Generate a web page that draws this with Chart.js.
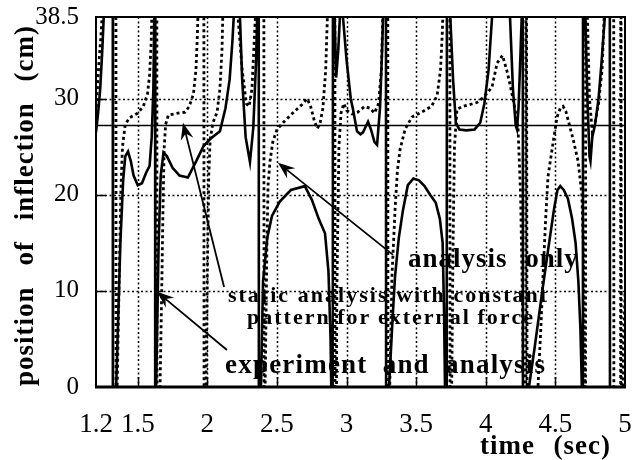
<!DOCTYPE html>
<html><head><meta charset="utf-8">
<script src="https://cdn.jsdelivr.net/npm/chart.js@4.4.1/dist/chart.umd.min.js"></script>
<style>html,body{margin:0;padding:0;background:#fff;}#wrap{width:632px;height:460px;position:relative;}</style>
</head><body><div id="wrap"><canvas id="c" width="632" height="460"></canvas></div>
<script>
// ---- tick labels / grid ----
const xTicks = [1.2, 1.5, 2, 2.5, 3, 3.5, 4, 4.5, 5];
const yTicks = [0, 10, 20, 30, 38.5];
const xGrid = [1.5, 2, 2.5, 3, 3.5, 4, 4.5];
const yGrid = [10, 20, 30];

// ---- experiment and analysis (solid) ----
const expT = [1.2,1.215,1.23,1.245,1.26,1.3,1.32,1.322,
1.345,1.375,1.395,1.41,1.43,1.45,1.47,1.5,1.53,1.56,1.585,1.6,1.612,1.62,1.624,1.626,
1.632,1.65,1.665,1.685,1.71,1.75,1.80,1.86,1.92,1.97,2.02,2.09,2.13,2.16,2.18,2.195,2.215,2.234,2.25,2.275,2.306,2.33,2.35,2.36,2.368,2.371,
2.385,2.40,2.43,2.464,2.52,2.6,2.7,2.75,2.8,2.845,2.87,2.885,2.895,2.9,2.903,
2.915,2.925,2.94,2.952,2.963,2.974,3.0,3.03,3.046,3.075,3.10,3.118,3.154,3.175,3.2,3.219,3.24,3.255,3.262,3.275,3.282,3.285,
3.305,3.33,3.348,3.375,3.405,3.44,3.48,3.52,3.56,3.6,3.64,3.67,3.69,3.70,3.707,3.718,3.722,
3.745,3.765,3.785,3.81,3.86,3.92,3.96,3.99,4.02,4.045,4.07,4.15,4.174,4.195,4.215,4.224,4.235,4.25,4.258,4.265,4.268,
4.31,4.35,4.404,4.45,4.49,4.515,4.535,4.56,4.59,4.62,4.645,4.665,4.68,4.69,4.697,4.699,
4.715,4.73,4.745,4.752,4.765,4.785,4.81,4.83,4.855,4.875,4.89,4.893,5.0];
const expY = [26.5,28.5,31,35,40,80,80,-40,
0,15,21.5,24,24.5,23.5,22,21,21.2,22.3,23,26,31,40,80,-40,
0,15,22,24.4,24,22.8,22.0,21.8,23.5,25,25.8,26.6,29,32,36,40,48,38.5,32,26,23.4,27,34,40,80,-40,
0,11,15.5,17.8,19.3,20.5,20.9,19.5,17.5,16,12,5,-5,-40,80,
38,32.2,35,38.5,45,38.5,34,30,28.9,26.6,26.3,26.5,27.6,26.8,25.5,25.2,29,35,38.5,60,80,-40,
0,7,11.5,15.5,18.4,21.0,21.7,21.5,20.9,20,19.2,17.5,15,8,0,-40,80,
38.5,32,27.5,26.8,26.7,26.8,27.5,29.5,33,38.5,48,48,38.5,31,27.2,26.8,29,35,38.5,80,-40,
0,4,9.8,14.5,18.5,20.5,20.9,20.5,19.6,17.5,15,11,6,0,-40,80,
38.5,30,24,23.5,26,27.3,30,33.5,38.5,60,80,-40,-40];

// ---- analysis only (dotted) ----
const anaT = [1.2,1.21,1.22,1.235,1.25,1.3,1.342,1.345,
1.352,1.365,1.378,1.39,1.41,1.44,1.5,1.54,1.57,1.585,1.597,1.603,1.615,1.636,1.639,
1.66,1.672,1.681,1.69,1.70,1.72,1.79,1.84,1.87,1.9,1.918,1.928,1.935,1.96,1.974,1.977,
1.99,2.0,2.01,2.02,2.04,2.07,2.09,2.105,2.113,2.17,2.22,2.25,2.28,2.3,2.32,2.345,2.38,2.405,2.408,
2.415,2.428,2.436,2.45,2.47,2.5,2.55,2.62,2.68,2.716,2.74,2.77,2.79,2.81,2.83,2.85,2.862,2.88,2.915,2.918,
2.93,2.945,2.96,2.98,3.0,3.04,3.08,3.13,3.17,3.2,3.23,3.25,3.26,3.27,3.295,3.298,
3.31,3.326,3.348,3.365,3.384,3.42,3.47,3.54,3.61,3.65,3.675,3.688,3.695,3.71,3.741,3.744,
3.755,3.765,3.775,3.793,3.837,3.937,3.98,4.045,4.081,4.12,4.15,4.174,4.21,4.232,4.25,4.262,4.27,4.28,4.287,4.289,4.3,
4.36,4.375,4.395,4.411,4.43,4.447,4.483,4.512,4.535,4.555,4.575,4.6,4.627,4.663,4.69,4.70,4.708,4.713,4.716,4.718,
4.73,4.745,4.765,4.785,4.81,4.835,4.85,4.87,4.918,4.921,4.968,4.97,4.975,4.98,4.99,5.0];
const anaY = [28.5,31,33.5,36.5,40,80,80,-40,
0,10,20,25,27.3,28,28.5,29.2,30.5,32.5,36,40,80,80,-40,
0,10,18.4,25,27.3,28.3,28.5,28.6,29.2,30.5,33,36.5,40,80,80,-40,
0,12,22,25.7,27.5,28.6,31,35,40,60,38.5,33,29.5,29.2,31,38.5,70,80,-40,
0,15,21,23.5,25.5,26.8,27.6,28.6,29.4,30,29.3,27.6,26.9,27.5,29,33,38.5,70,80,-40,
10,25,28.5,29.5,28.8,28.4,28.6,29.2,29,28.5,29.5,33,38.5,60,80,-40,
0,11.5,18.4,22.5,24.7,26.8,28.1,28.6,29.2,30.3,33,37,40,80,80,-40,
0,15,25,28.9,29.2,29.6,30.1,31.2,33.7,34.5,33,31.5,28.9,26.8,20,10,0,-40,-40,80,-40,
-5,0,6,11.5,17.5,21.9,25.4,28.1,29,29.2,28.7,27.3,25.8,23.5,20,15,5,0,-40,80,
38.5,30,26.5,27.5,29.5,33,38.5,60,80,-40,-40,80,-40,-5,4,10];

// ---- static analysis with constant pattern (solid thin) ----
const staticT = [1.2, 5];
const staticY = [27.2, 27.2];

const pts = (T, Y) => T.map((t, i) => ({x: t, y: Y[i]}));

// annotations, in data units
const notes = [
  {text: 'analysis only', x1: 3.441, x2: 4.66, y: 12.45, size: 27, ls: 1},
  {text: 'static analysis with constant', x1: 2.148, x2: 4.44, y: 8.85, size: 22, ls: 2},
  {text: 'pattern for external force', x1: 2.285, x2: 4.34, y: 6.6, size: 22, ls: 2},
  {text: 'experiment and analysis', x1: 2.127, x2: 4.425, y: 1.46, size: 27, ls: 1.2}
];
const arrows = [
  {from: [3.334, 13.75], to: [2.507, 23.33]},
  {from: [2.12, 10.4], to: [1.825, 27.5]},
  {from: [2.141, 3.85], to: [1.638, 9.9]}
];

const SERIF = '"Liberation Serif", "Times New Roman", serif';

function drawJustified(ctx, text, x1, x2, y, font, ls) {
  ctx.font = font;
  const words = text.split(' ');
  const ww = words.map(w => {
    let s = 0; for (const ch of w) s += ctx.measureText(ch).width; return s + ls * (w.length - 1);
  });
  const tot = ww.reduce((a, b) => a + b, 0);
  const gap = words.length > 1 ? (x2 - x1 - tot) / (words.length - 1) : 0;
  let cx = x1;
  words.forEach((w, i) => {
    for (const ch of w) { ctx.fillText(ch, cx, y); cx += ctx.measureText(ch).width + ls; }
    cx += gap - ls;
  });
}

function drawArrow(ctx, x1, y1, x2, y2) {
  const ang = Math.atan2(y2 - y1, x2 - x1);
  const L = 17, W = 6.5;
  ctx.beginPath(); ctx.moveTo(x1, y1);
  ctx.lineTo(x2 - Math.cos(ang) * L * 0.6, y2 - Math.sin(ang) * L * 0.6); ctx.stroke();
  ctx.save(); ctx.translate(x2, y2); ctx.rotate(ang);
  ctx.beginPath(); ctx.moveTo(0, 0); ctx.lineTo(-L, -W); ctx.lineTo(-L * 0.65, 0); ctx.lineTo(-L, W); ctx.closePath(); ctx.fill();
  ctx.restore();
}

const deco = {
  id: 'deco',
  beforeDatasetsDraw(chart) {
    const {ctx, chartArea: a, scales: {x, y}} = chart;
    ctx.save();
    ctx.strokeStyle = '#000'; ctx.lineWidth = 1.5; ctx.setLineDash([2, 2.5]);
    xGrid.forEach(v => { const p = Math.round(x.getPixelForValue(v)) + 0.5; ctx.beginPath(); ctx.moveTo(p, a.top); ctx.lineTo(p, a.bottom); ctx.stroke(); });
    yGrid.forEach(v => { const p = Math.round(y.getPixelForValue(v)) + 0.5; ctx.beginPath(); ctx.moveTo(a.left, p); ctx.lineTo(a.right, p); ctx.stroke(); });
    ctx.restore();
  },
  afterDatasetsDraw(chart) {
    const {ctx, chartArea: a, scales: {x, y}} = chart;
    ctx.save();
    ctx.strokeStyle = '#000'; ctx.fillStyle = '#000'; ctx.setLineDash([]);
    // inward ticks
    ctx.lineWidth = 1.5;
    yGrid.forEach(v => { const p = Math.round(y.getPixelForValue(v)) + 0.5; ctx.beginPath(); ctx.moveTo(a.left, p); ctx.lineTo(a.left + 10, p); ctx.stroke(); });
    xGrid.forEach(v => { const p = Math.round(x.getPixelForValue(v)) + 0.5; ctx.beginPath(); ctx.moveTo(p, a.bottom); ctx.lineTo(p, a.bottom - 10); ctx.stroke(); });
    // frame
    ctx.lineWidth = 2;
    ctx.strokeRect(a.left, a.top, a.right - a.left, a.bottom - a.top);
    ctx.lineWidth = 3;
    ctx.beginPath(); ctx.moveTo(a.left - 1, a.bottom); ctx.lineTo(a.right + 1, a.bottom); ctx.stroke();
    // arrows
    ctx.lineWidth = 1.8;
    arrows.forEach(ar => drawArrow(ctx, x.getPixelForValue(ar.from[0]), y.getPixelForValue(ar.from[1]),
                                   x.getPixelForValue(ar.to[0]), y.getPixelForValue(ar.to[1])));
    // notes
    ctx.textBaseline = 'alphabetic'; ctx.textAlign = 'left';
    notes.forEach(n => drawJustified(ctx, n.text, x.getPixelForValue(n.x1), x.getPixelForValue(n.x2),
                                     y.getPixelForValue(n.y), 'bold ' + n.size + 'px ' + SERIF, n.ls));
    ctx.restore();
  },
  afterDraw(chart) {
    const ctx = chart.ctx;
    ctx.save(); ctx.fillStyle = '#000'; ctx.textBaseline = 'alphabetic'; ctx.textAlign = 'left';
    drawJustified(ctx, 'time (sec)', 480, 610, 454, 'bold 27px ' + SERIF, 1);
    ctx.translate(33, 0); ctx.rotate(-Math.PI / 2);
    drawJustified(ctx, 'position of inflection (cm)', -386, -26, 0, 'bold 27px ' + SERIF, 1);
    ctx.restore();
  }
};

new Chart(document.getElementById('c'), {
  type: 'line',
  data: {
    datasets: [
      {label: 'static analysis with constant pattern for external force', data: pts(staticT, staticY),
       borderColor: '#000', borderWidth: 1.5, pointRadius: 0, tension: 0, clip: 1},
      {label: 'analysis only', data: pts(anaT, anaY), borderColor: '#000', borderWidth: 2.8,
       borderDash: [3, 3], pointRadius: 0, tension: 0, clip: 1},
      {label: 'experiment and analysis', data: pts(expT, expY), borderColor: '#000', borderWidth: 2.6,
       pointRadius: 0, tension: 0, clip: 1}
    ]
  },
  options: {
    responsive: false, animation: false, devicePixelRatio: 1,
    layout: {padding: {top: 17, right: 7, left: 0, bottom: 0}},
    plugins: {legend: {display: false}, tooltip: {enabled: false}},
    scales: {
      x: {
        type: 'linear', min: 1.2, max: 5,
        afterBuildTicks: s => { s.ticks = xTicks.map(v => ({value: v})); },
        afterFit: s => { s.height = 73; s.paddingLeft = 0; s.paddingRight = 0; },
        grid: {display: false, drawTicks: false}, border: {display: false},
        ticks: {autoSkip: false, maxRotation: 0, padding: 22, color: '#000',
                font: {family: SERIF, size: 27}, callback: v => String(v)}
      },
      y: {
        type: 'linear', min: 0, max: 38.5,
        afterBuildTicks: s => { s.ticks = yTicks.map(v => ({value: v})); },
        afterFit: s => { s.width = 96; s.paddingTop = 0; s.paddingBottom = 0; },
        grid: {display: false, drawTicks: false}, border: {display: false},
        ticks: {autoSkip: false, padding: 17, color: '#000',
                font: {family: SERIF, size: 25}, callback: v => String(v)}
      }
    }
  },
  plugins: [deco]
});
</script></body></html>
